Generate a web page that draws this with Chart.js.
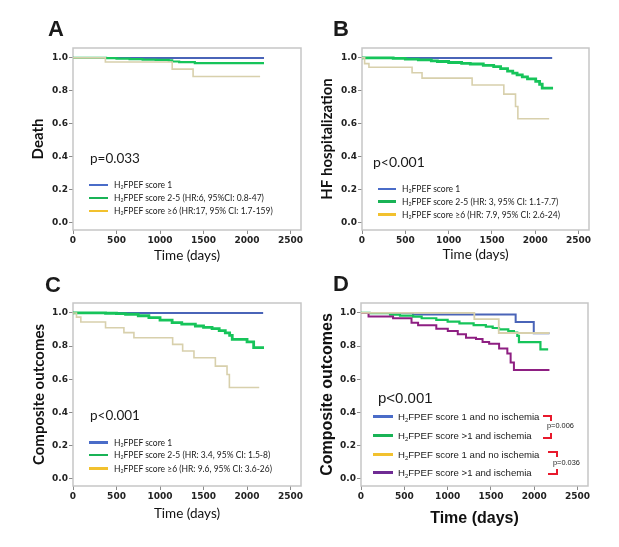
<!DOCTYPE html>
<html>
<head>
<meta charset="utf-8">
<title>H2FPEF score Kaplan-Meier curves</title>
<script src="https://cdn.jsdelivr.net/npm/chart.js@4.4.1/dist/chart.umd.min.js"></script>
<style>
  html, body { margin: 0; padding: 0; background: #fff; }
  #page { position: relative; width: 619px; height: 547px; overflow: hidden; }
  canvas { position: absolute; }
  .txt { position: absolute; white-space: nowrap; line-height: 1; color: #1a1a1a; }
  .letter { font: bold 22px 'Liberation Sans', Arial, sans-serif; }
  .swatch { position: absolute; height: 2.5px; }
  sub { font-size: 0.62em; vertical-align: -0.28em; line-height: 0; }
  .br { position: absolute; border: 0 solid #e8192c; }
</style>
</head>
<body>
<div id="page"></div>
<script>
// shared axis ticks
const xTicks = [0, 500, 1000, 1500, 2000, 2500];
const yTicks = [0.0, 0.2, 0.4, 0.6, 0.8, 1.0];

// A: death
const labelsA = ['H₂FPEF score 1', 'H₂FPEF score 2-5 (HR:6, 95%CI: 0.8-47)', 'H₂FPEF score ≥6 (HR:17, 95% CI: 1.7-159)'];
const daysA1 = [0, 2195];
const survA1 = [1, 1];
const daysA2 = [0, 380, 500, 650, 800, 950, 1100, 1140, 1220, 1400, 2195];
const survA2 = [1, 0.998, 0.996, 0.993, 0.99, 0.988, 0.985, 0.978, 0.974, 0.968, 0.968];
const daysA3 = [0, 372, 1140, 1380, 2150];
const survA3 = [1, 0.975, 0.932, 0.887, 0.887];

// B: HF hospitalization
const labelsB = ['H₂FPEF score 1', 'H₂FPEF score 2-5 (HR: 3, 95% CI: 1.1-7.7)', 'H₂FPEF score ≥6 (HR: 7.9, 95% CI: 2.6-24)'];
const daysB1 = [0, 2195];
const survB1 = [1, 1];
const daysB2 = [0, 360, 500, 650, 800, 870, 1000, 1150, 1250, 1400, 1520, 1600, 1680, 1740, 1790, 1850, 1910, 2005, 2050, 2080, 2205];
const survB2 = [1, 0.997, 0.993, 0.988, 0.982, 0.978, 0.972, 0.967, 0.963, 0.955, 0.947, 0.935, 0.92, 0.908, 0.897, 0.885, 0.873, 0.857, 0.84, 0.816, 0.816];
const daysB3 = [0, 30, 80, 578, 693, 1271, 1637, 1772, 1799, 2160];
const survB3 = [1, 0.965, 0.943, 0.91, 0.877, 0.835, 0.78, 0.705, 0.63, 0.63];

// C: composite outcomes
const labelsC = ['H₂FPEF score 1', 'H₂FPEF score 2-5 (HR: 3.4, 95% CI: 1.5-8)', 'H₂FPEF score ≥6 (HR: 9.6, 95% CI: 3.6-26)'];
const daysC1 = [0, 2185];
const survC1 = [1, 1];
const daysC2 = [0, 374, 500, 604, 750, 872, 1000, 1139, 1250, 1406, 1500, 1598, 1680, 1750, 1800, 1830, 2000, 2076, 2195];
const survC2 = [1, 0.998, 0.996, 0.992, 0.983, 0.972, 0.957, 0.941, 0.932, 0.921, 0.913, 0.905, 0.893, 0.88, 0.865, 0.84, 0.825, 0.79, 0.79];
const daysC3 = [0, 40, 90, 374, 585, 700, 1145, 1260, 1390, 1636, 1770, 1797, 2140];
const survC3 = [1, 0.975, 0.945, 0.911, 0.881, 0.85, 0.81, 0.77, 0.729, 0.679, 0.628, 0.55, 0.55];

// D: composite outcomes by score and ischemia
const labelsD = ['H₂FPEF score 1 and no ischemia', 'H₂FPEF score >1 and ischemia', 'H₂FPEF score 1  and no ischemia', 'H₂FPEF score >1 and  ischemia'];
const daysD1 = [0, 600, 1785, 1994, 2175];
const survD1 = [1, 0.99, 0.945, 0.877, 0.877];
const daysD2 = [0, 100, 335, 450, 602, 700, 869, 1000, 1136, 1300, 1441, 1520, 1593, 1700, 1765, 1804, 1823, 2071, 2160];
const survD2 = [1, 0.998, 0.99, 0.984, 0.978, 0.968, 0.958, 0.948, 0.937, 0.927, 0.917, 0.909, 0.901, 0.89, 0.881, 0.861, 0.824, 0.78, 0.78];
const daysD3 = [0, 1308, 1590, 2175];
const survD3 = [1, 0.963, 0.879, 0.879];
const daysD4 = [0, 87, 370, 583, 659, 869, 1002, 1117, 1212, 1327, 1403, 1479, 1594, 1689, 1727, 1765, 2175];
const survD4 = [1, 0.978, 0.968, 0.941, 0.925, 0.905, 0.891, 0.871, 0.85, 0.842, 0.824, 0.814, 0.785, 0.755, 0.7, 0.655, 0.655];
const pairNotes = ['p=0.006', 'p=0.036'];

const page = document.getElementById('page');
const BLUE = '#4a64b8', GREEN = '#16c45a', TAN = '#d8d0ac', PURPLE = '#8e1f82';
const LEG = ['#4a6cc8', '#19b356', '#f2c12e', '#6f2b94'];

const frame = {
  id: 'frame',
  beforeDatasetsDraw(chart) {
    const { ctx, chartArea: a } = chart;
    ctx.save();
    ctx.strokeStyle = '#c6c6c6';
    ctx.lineWidth = 1.5;
    ctx.strokeRect(a.left, a.top, a.right - a.left, a.bottom - a.top);
    ctx.restore();
  }
};

function makePanel(p) {
  const [bx, by, bw, bh] = p.box;
  const [al, at, ar, ab] = p.area;
  const yLeft = p.yTitleX - p.yFont.size * 1.2 / 2;
  const xBottom = p.xTitleY + p.xFont.size * 1.2 / 2;
  const c = document.createElement('canvas');
  c.width = bw; c.height = bh;
  Object.assign(c.style, { left: bx + 'px', top: by + 'px', width: bw + 'px', height: bh + 'px' });
  page.appendChild(c);
  const tickFont = { family: 'DejaVu Sans', size: 9, weight: 'bold' };
  const grid = { drawOnChartArea: false, drawTicks: true, tickLength: 4, color: '#8a8a8a' };
  new Chart(c, {
    type: 'line',
    data: {
      datasets: p.series.map((s, i) => ({
        data: s.days.map((d, k) => ({ x: d, y: s.surv[k] })),
        borderColor: s.color,
        borderWidth: s.width,
        stepped: true,
        pointRadius: 0,
        fill: false,
        order: s.order
      }))
    },
    options: {
      responsive: false,
      animation: false,
      layout: { padding: { left: yLeft - bx, top: at - by, right: bx + bw - ar, bottom: by + bh - xBottom } },
      plugins: { legend: { display: false }, tooltip: { enabled: false } },
      scales: {
        x: {
          type: 'linear', min: 0, max: 2620,
          afterBuildTicks: s => { s.ticks = xTicks.map(v => ({ value: v })); },
          afterFit: s => { s.height = xBottom - ab; },
          ticks: { font: tickFont, color: '#222', padding: 1, maxRotation: 0, callback: v => String(v) },
          grid: grid,
          border: { display: false },
          title: { display: true, text: 'Time (days)', font: p.xFont, color: '#111', padding: 0 }
        },
        y: {
          type: 'linear', min: -0.045, max: 1.06,
          afterBuildTicks: s => { s.ticks = yTicks.map(v => ({ value: v })); },
          afterFit: s => { s.width = al - yLeft; },
          ticks: { font: tickFont, color: '#222', padding: 1, callback: v => v.toFixed(1) },
          grid: grid,
          border: { display: false },
          title: { display: true, text: p.yTitle, font: p.yFont, color: '#111', padding: 0 }
        }
      }
    },
    plugins: [frame]
  });
}

function addText(str, x, cy, font, cls) {
  const d = document.createElement('div');
  d.className = 'txt' + (cls ? ' ' + cls : '');
  d.innerHTML = str.replace('₂', '<sub>2</sub>');
  if (font) d.style.font = font.css;
  const size = font ? font.size : 22;
  d.style.left = x + 'px';
  d.style.top = (cy - size * 0.55) + 'px';
  page.appendChild(d);
  return d;
}

function addLegend(labels, colors, x0, x1, tx, rows, font) {
  labels.forEach((lab, i) => {
    const s = document.createElement('div');
    s.className = 'swatch';
    Object.assign(s.style, { left: x0 + 'px', width: (x1 - x0) + 'px', top: (rows[i] - 1.25) + 'px', background: colors[i] });
    page.appendChild(s);
    addText(lab, tx, rows[i], font);
  });
}

function bracket(x0, x1, y0, y1, tick) {
  const t = document.createElement('div');
  t.className = 'br';
  Object.assign(t.style, { left: x0 + 'px', top: y0 + 'px', width: (x1 - x0) + 'px', height: tick + 'px', borderTopWidth: '2px', borderRightWidth: '2px' });
  page.appendChild(t);
  const b = document.createElement('div');
  b.className = 'br';
  Object.assign(b.style, { left: x0 + 'px', top: (y1 - tick) + 'px', width: (x1 - x0) + 'px', height: tick + 'px', borderBottomWidth: '2px', borderRightWidth: '2px' });
  page.appendChild(b);
}

const latoB15 = { family: 'Lato', size: 15, weight: 'bold' };
const lato135 = { family: 'Lato', size: 13.5 };
const arialB16 = { family: 'Liberation Sans', size: 16, weight: 'bold' };

makePanel({
  box: [0, 0, 310, 270], area: [73, 48, 301, 230], yTitleX: 38, xTitleY: 256,
  yTitle: 'Death', yFont: latoB15, xFont: lato135,
  series: [
    { days: daysA1, surv: survA1, color: BLUE, width: 2, order: 3 },
    { days: daysA2, surv: survA2, color: GREEN, width: 2.2, order: 2 },
    { days: daysA3, surv: survA3, color: TAN, width: 1.6, order: 1 }
  ]
});
makePanel({
  box: [310, 0, 309, 270], area: [362, 48, 589, 230], yTitleX: 327.5, xTitleY: 255,
  yTitle: 'HF hospitalization', yFont: latoB15, xFont: lato135,
  series: [
    { days: daysB1, surv: survB1, color: BLUE, width: 2, order: 3 },
    { days: daysB2, surv: survB2, color: GREEN, width: 2.8, order: 2 },
    { days: daysB3, surv: survB3, color: TAN, width: 1.6, order: 1 }
  ]
});
makePanel({
  box: [0, 270, 310, 277], area: [73, 303, 301, 486], yTitleX: 39, xTitleY: 514,
  yTitle: 'Composite outcomes', yFont: latoB15, xFont: lato135,
  series: [
    { days: daysC1, surv: survC1, color: BLUE, width: 2, order: 3 },
    { days: daysC2, surv: survC2, color: GREEN, width: 2.8, order: 2 },
    { days: daysC3, surv: survC3, color: TAN, width: 1.6, order: 1 }
  ]
});
makePanel({
  box: [310, 270, 309, 277], area: [361, 303, 588, 486], yTitleX: 328, xTitleY: 519,
  yTitle: 'Composite outcomes', yFont: arialB16, xFont: arialB16,
  series: [
    { days: daysD1, surv: survD1, color: BLUE, width: 2, order: 4 },
    { days: daysD2, surv: survD2, color: GREEN, width: 2.2, order: 3 },
    { days: daysD3, surv: survD3, color: TAN, width: 1.8, order: 1 },
    { days: daysD4, surv: survD4, color: PURPLE, width: 2, order: 2 }
  ]
});

function f(family, size, weight) { return { size: size, css: (weight || 'normal') + ' ' + size + 'px ' + family }; }

// panel letters
addText('A', 48, 28.5, null, 'letter');
addText('B', 333, 28.5, null, 'letter');
addText('C', 45, 284, null, 'letter');
addText('D', 333, 283.5, null, 'letter');

// p values
addText('p=0.033', 90, 157, f('Lato', 13.5));
addText('p&lt;0.001', 373, 161, f('Lato', 14));
addText('p&lt;0.001', 90, 414, f('Lato', 13.5));
addText('p&lt;0.001', 378, 397, f("'Liberation Sans'", 15));

// legends
const legA = f('Lato', 8.5);
addLegend(labelsA, LEG, 89, 108, 114, [185, 198, 211], legA);
addLegend(labelsB, LEG, 378, 396, 402, [189, 201.7, 214.3], legA);
addLegend(labelsC, LEG, 89, 108, 114, [442.3, 455, 468.3], legA);
addLegend(labelsD, LEG, 373, 393, 398, [416.7, 435.7, 454.3, 472.7], f("'Liberation Sans'", 9.6));

// pairwise comparison notes
bracket(543, 550, 415, 437, 4);
bracket(548, 556, 451, 473, 4);
addText(pairNotes[0], 547, 425.5, f("'Liberation Sans'", 7.4));
addText(pairNotes[1], 553, 462, f("'Liberation Sans'", 7.4));
</script>
</body>
</html>
